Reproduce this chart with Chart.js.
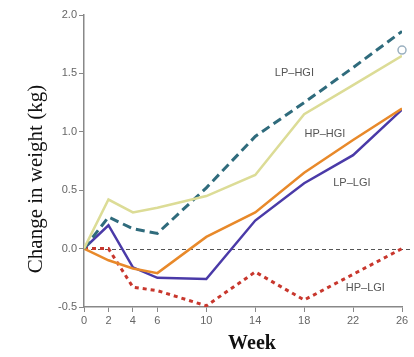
<!DOCTYPE html>
<html><head><meta charset="utf-8">
<script src="https://cdn.jsdelivr.net/npm/chart.js@4.4.0/dist/chart.umd.min.js"></script>
<style>html,body{margin:0;padding:0;background:#fff}#wrap{width:414px;height:357px;position:relative}</style>
</head><body><div id="wrap"><canvas id="c" width="414" height="357"></canvas></div>
<script>
const weeks = [0, 2, 4, 6, 10, 14, 18, 22, 26];
const xTicks = [0, 2, 4, 6, 10, 14, 18, 22, 26];
const yTicks = [-0.5, 0.0, 0.5, 1.0, 1.5, 2.0];
const lpHgi = [0, 0.27, 0.17, 0.13, 0.52, 0.96, 1.25, 1.55, 1.86];
const hpHgi = [0, 0.42, 0.31, 0.35, 0.45, 0.63, 1.15, 1.40, 1.65];
const lpLgi = [0, 0.20, -0.16, -0.25, -0.26, 0.24, 0.56, 0.80, 1.19];
const orange = [0, -0.10, -0.17, -0.21, 0.10, 0.31, 0.65, 0.93, 1.20];
const hpLgi = [0, 0.0, -0.33, -0.36, -0.49, -0.20, -0.44, -0.22, 0.0];
const endMarker = [{x: 26, y: 1.70}];
const labels = [
  {text: 'LP–HGI', x: 17.2, y: 1.50},
  {text: 'HP–HGI', x: 19.7, y: 0.98},
  {text: 'LP–LGI', x: 21.9, y: 0.565},
  {text: 'HP–LGI', x: 23.0, y: -0.34}
];
const xTitle = 'Week';
const yTitle = 'Change in weight (kg)';
const pts = arr => weeks.map((w, i) => ({x: w, y: arr[i]}));
const ds = (data, color, width, dash) => ({data: pts(data), borderColor: color, borderWidth: width, borderDash: dash || [], pointRadius: 0, fill: false, tension: 0});

const labelPlugin = {
  id: 'lbl',
  beforeDatasetsDraw(chart) {
    const {ctx, chartArea, scales} = chart;
    const y = scales.y;
    ctx.save();
    ctx.strokeStyle = '#555';
    ctx.lineWidth = 1;
    ctx.setLineDash([4, 3]);
    ctx.beginPath();
    const y0 = Math.round(y.getPixelForValue(0)) + 0.5;
    ctx.moveTo(chartArea.left, y0);
    ctx.lineTo(chart.width - 1, y0);
    ctx.stroke();
    ctx.restore();
  },
  afterDatasetsDraw(chart) {
    const {ctx, scales} = chart;
    ctx.save();
    ctx.fillStyle = '#555';
    ctx.font = '11px "Liberation Sans", Arial, sans-serif';
    ctx.textAlign = 'center';
    ctx.textBaseline = 'middle';
    labels.forEach(l => ctx.fillText(l.text, scales.x.getPixelForValue(l.x), scales.y.getPixelForValue(l.y)));
    ctx.fillStyle = '#111';
    ctx.font = 'bold 20px "Liberation Serif", "Times New Roman", serif';
    ctx.fillText(xTitle, 252, 344);
    ctx.font = '21px "Liberation Serif", "Times New Roman", serif';
    ctx.translate(36, 179);
    ctx.rotate(-Math.PI / 2);
    ctx.fillText(yTitle, 0, 0);
    ctx.restore();
  }
};

new Chart(document.getElementById('c'), {
  type: 'line',
  data: {datasets: [
    ds(hpHgi, '#dcdc96', 2.5),
    ds(lpHgi, '#2f6b7c', 3, [9, 5]),
    ds(orange, '#e8892a', 2.5),
    ds(lpLgi, '#4a3aa8', 2.5),
    ds(hpLgi, '#c8372d', 3, [4, 4]),
    {data: endMarker, showLine: false, clip: false, pointRadius: 4, pointBorderWidth: 1.5, pointBorderColor: '#9ab0c0', pointBackgroundColor: '#ffffff', borderColor: '#9ab0c0'}
  ]},
  options: {
    responsive: false, animation: false, devicePixelRatio: 1,
    layout: {padding: {left: 0, right: 12, top: 15, bottom: 0}},
    plugins: {legend: {display: false}, tooltip: {enabled: false}},
    scales: {
      x: {type: 'linear', min: 0, max: 26,
        afterBuildTicks: s => { s.ticks = xTicks.map(v => ({value: v})); },
        afterFit: s => { s.height = 50; },
        grid: {drawOnChartArea: false, drawTicks: true, tickLength: 5, color: '#888'},
        border: {display: true, color: '#888', width: 1.5},
        ticks: {color: '#666', font: {size: 11, family: '"Liberation Sans", Arial, sans-serif'}, padding: 2, maxRotation: 0},
        title: {display: false}
      },
      y: {min: -0.5, max: 2.0,
        afterBuildTicks: s => { s.ticks = yTicks.map(v => ({value: v})); },
        afterFit: s => { s.width = 84; },
        grid: {drawOnChartArea: false, drawTicks: true, tickLength: 5, color: '#888'},
        border: {display: true, color: '#888', width: 1.5},
        ticks: {color: '#666', font: {size: 11, family: '"Liberation Sans", Arial, sans-serif'}, padding: 2, callback: v => v.toFixed(1)},
        title: {display: false}
      }
    }
  },
  plugins: [labelPlugin]
});
</script></body></html>
